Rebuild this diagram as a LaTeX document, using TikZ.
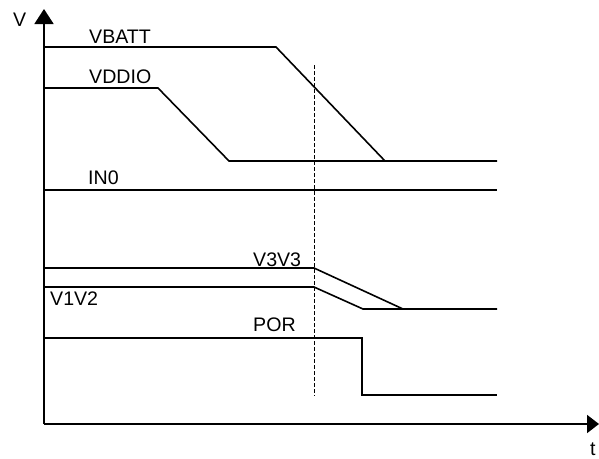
\documentclass[tikz,border=0pt]{standalone}
\usepackage{fontspec}
\setmainfont{Liberation Sans}
\usetikzlibrary{arrows.meta}
\begin{document}
\begin{tikzpicture}[x=1pt,y=-1pt,
  sig/.style={line width=1.6pt,line join=miter},
  axis/.style={line width=1.8pt},
  lbl/.style={anchor=base west,inner sep=0pt,font=\fontsize{19.6}{22}\selectfont},
  guide/.style={line width=0.8pt,dash pattern=on 3.5pt off 2.5pt}]
\useasboundingbox (0,0) rectangle (599,458);
% axes
\coordinate (O) at (44,424);
\coordinate (ytip) at (44,9);
\coordinate (xtip) at (599,424);
\draw[axis,-{Triangle[length=15pt,width=19pt]}] (O) -- (ytip);
\draw[axis,-{Triangle[length=12pt,width=18pt]}] (O) -- (xtip);
\node[lbl] (V) at (13,26) {V};
\node[lbl] (t) at (590,455) {t};
% dashed guide
\coordinate (g1) at (314,65);
\coordinate (g2) at (314,396);
\draw[guide] (g1) -- (g2);
% VBATT
\draw[sig] (44,47) -- (276,47) -- (385,161) -- (497,161);
\node[lbl] (vbatt) at (89,43) {VBATT};
% VDDIO
\draw[sig] (44,88) -- (158,88) -- (229,161) -- (385,161);
\node[lbl] (vddio) at (89,83) {VDDIO};
% IN0
\draw[sig] (44,190) -- (497,190);
\node[lbl] (in0) at (88,184) {IN0};
% V3V3
\draw[sig] (44,268) -- (314,268) -- (403,309) -- (497,309);
\node[lbl] (v3v3) at (253,266) {V3V3};
% V1V2
\draw[sig] (44,287) -- (314,287) -- (363,309) -- (403,309);
\node[lbl] (v1v2) at (50,305) {V1V2};
% POR
\draw[sig] (44,338) -- (362,338) -- (362,395) -- (497,395);
\node[lbl] (por) at (253,331) {POR};
\end{tikzpicture}
\end{document}
